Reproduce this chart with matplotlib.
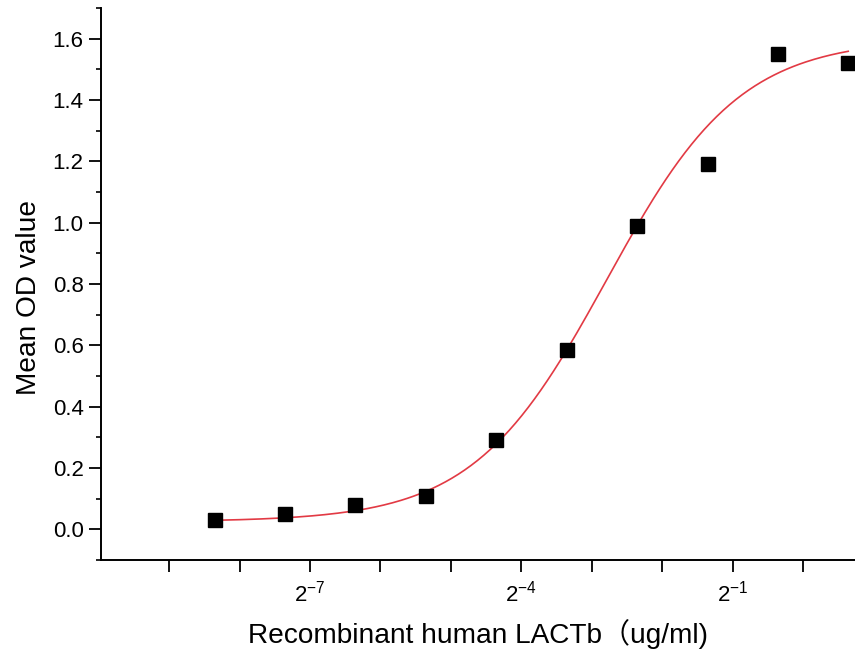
import numpy as np
import matplotlib
matplotlib.use("Agg")
import matplotlib.pyplot as plt
from matplotlib.ticker import FixedLocator, MultipleLocator, NullLocator

# Data
conc = [0.00305, 0.0061, 0.0122, 0.0244, 0.0488, 0.0977, 0.195, 0.391, 0.781, 1.5625]
od = [0.03, 0.05, 0.08, 0.11, 0.29, 0.585, 0.99, 1.19, 1.55, 1.52]
xtick_exponents = [-9, -8, -7, -6, -5, -4, -3, -2, -1, 0]
xtick_labels = ['', '', r'$\mathregular{2^{-7}}$', '', '', r'$\mathregular{2^{-4}}$', '', '',
                r'$\mathregular{2^{-1}}$', '']
yticks = [0.0, 0.2, 0.4, 0.6, 0.8, 1.0, 1.2, 1.4, 1.6]

# 4PL fit parameters (in log2 concentration)
fit_bottom = 0.025
fit_top = 1.60
fit_log2_ec50 = -2.79
fit_hill = 1.52

plt.rcParams['font.family'] = ['Liberation Sans', 'Noto Sans CJK SC', 'DejaVu Sans']
plt.rcParams['mathtext.fontset'] = 'custom'
plt.rcParams['mathtext.rm'] = 'Liberation Sans'
plt.rcParams['mathtext.it'] = 'Liberation Sans:italic'

fig = plt.figure(figsize=(8.55, 6.54), dpi=100)
ax = fig.add_axes([101/855, 94/654, 1 - 101/855, (560 - 8)/654])

lx = np.log2(conc)
grid = np.linspace(lx[0], lx[-1], 300)
curve = fit_bottom + (fit_top - fit_bottom) / (1 + 2 ** ((fit_log2_ec50 - grid) * fit_hill))
ax.plot(2 ** grid, curve, color='#e23a44', lw=1.2, zorder=2)
ax.plot(conc, od, 's', color='black', markersize=9.5, zorder=3)

ax.set_xscale('log', base=2)
ax.set_xlim(2 ** -9.97, 2 ** 0.74)
ax.set_ylim(-0.1, 1.7)

ax.xaxis.set_major_locator(FixedLocator([2.0 ** e for e in xtick_exponents]))
ax.xaxis.set_minor_locator(NullLocator())
ax.set_xticklabels(xtick_labels, fontsize=16)
ax.set_yticks(yticks)
ax.set_yticklabels([f'{v:.1f}' for v in yticks], fontsize=16)
ax.yaxis.set_minor_locator(MultipleLocator(0.1))

for s in ['top', 'right']:
    ax.spines[s].set_visible(False)
for s in ['left', 'bottom']:
    ax.spines[s].set_linewidth(1.4)

ax.tick_params(axis='x', which='major', direction='out', length=8.5, width=1.3, pad=6)
ax.tick_params(axis='y', which='major', direction='out', length=8.5, width=1.3, pad=4)
ax.tick_params(axis='y', which='minor', direction='out', length=3.8, width=1.2)

ax.set_xlabel('Recombinant human LACTb（ug/ml)', fontsize=20.2, labelpad=9)
ax.set_ylabel('Mean OD value', fontsize=20.2, labelpad=8)
ax.yaxis.label.set_y(0.476)

fig.savefig('out.png', dpi=100)
